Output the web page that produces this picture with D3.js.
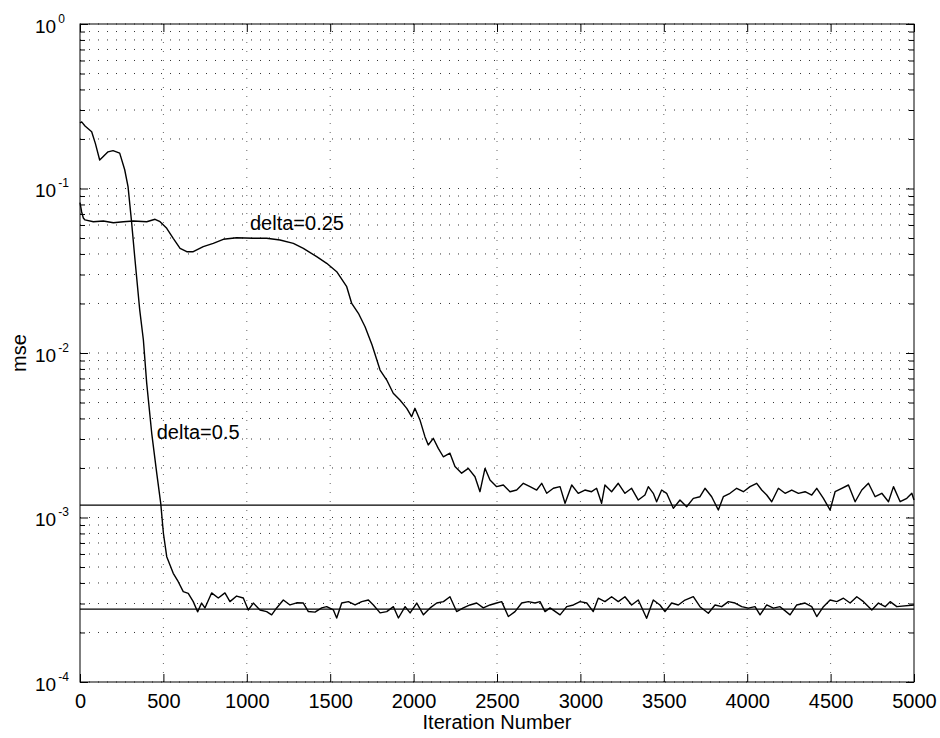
<!DOCTYPE html>
<html>
<head>
<meta charset="UTF-8">
<title>mse vs iteration</title>
<script src="https://d3js.org/d3.v7.min.js"></script>
<style>
  body { margin: 0; background: #fff; }
  svg { display: block; font-family: "Liberation Sans", Arial, Helvetica, sans-serif; }
</style>
</head>
<body>
<svg id="chart"></svg>
<script>
// x-Achse: Iterationen, y-Achse: mse (log)
const iterTicks = [0, 500, 1000, 1500, 2000, 2500, 3000, 3500, 4000, 4500, 5000];
const decadeTicks = [1e-4, 1e-3, 1e-2, 1e-1, 1];
const decadeExp = ["-4", "-3", "-2", "-1", "0"];

// Kurve delta=0.5  [Iteration, mse]
const delta05 = [
  [0,0.250],[10,0.254],[30,0.240],[70,0.2215],[92,0.188],[118,0.149],[138,0.156],[168,0.167],
  [198,0.170],[238,0.164],[268,0.130],[288,0.1026],[308,0.0644],[328,0.0385],[358,0.0183],
  [380,0.0120],[400,0.00654],[430,0.00325],[460,0.00186],[484,0.00122],[500,0.000802],
  [520,0.000578],[559,0.000458],[589,0.000407],[619,0.000354],[649,0.000346],[679,0.000308],
  [705,0.000267],[729,0.000302],[749,0.000282],[789,0.000348],[829,0.000324],[869,0.000348],
  [899,0.000308],[939,0.000333],[979,0.000324],[1009,0.000274],[1039,0.000302],[1079,0.000274],
  [1119,0.000268],[1149,0.000256],[1179,0.000282],[1219,0.000315],[1259,0.000294],[1299,0.000303],
  [1339,0.000302],[1369,0.000268],[1409,0.000266],[1449,0.000282],[1479,0.000287],[1519,0.000274],
  [1539,0.000245],[1569,0.000302],[1609,0.000308],[1649,0.000294],[1689,0.000308],[1729,0.000315],
  [1759,0.000294],[1799,0.000263],[1839,0.000268],[1879,0.000287],[1909,0.000245],[1949,0.000287],
  [1979,0.000263],[2019,0.000302],[2059,0.000256],[2099,0.000282],[2139,0.000302],[2179,0.000308],
  [2218,0.000330],[2258,0.000268],[2298,0.000282],[2338,0.000294],[2378,0.000302],[2418,0.000282],
  [2458,0.000294],[2498,0.000302],[2528,0.000308],[2568,0.000250],[2608,0.000268],[2648,0.000302],
  [2688,0.000308],[2728,0.000302],[2758,0.000308],[2788,0.000268],[2818,0.000282],[2878,0.000256],
  [2918,0.000287],[2958,0.000294],[2998,0.000308],[3038,0.000302],[3077,0.000268],[3107,0.000323],
  [3147,0.000308],[3187,0.000330],[3227,0.000308],[3267,0.000330],[3307,0.000294],[3347,0.000315],
  [3397,0.000244],[3437,0.000315],[3477,0.000294],[3507,0.000268],[3547,0.000302],[3587,0.000294],
  [3627,0.000315],[3677,0.000330],[3717,0.000287],[3767,0.000262],[3807,0.000294],[3847,0.000287],
  [3887,0.000308],[3927,0.000302],[3967,0.000287],[4007,0.000281],[4047,0.000287],[4077,0.000256],
  [4117,0.000294],[4157,0.000281],[4197,0.000287],[4257,0.000256],[4297,0.000294],[4347,0.000302],
  [4387,0.000287],[4417,0.000250],[4457,0.000287],[4497,0.000315],[4537,0.000308],[4577,0.000323],
  [4617,0.000302],[4657,0.000330],[4697,0.000308],[4747,0.000274],[4787,0.000302],[4827,0.000287],
  [4857,0.000308],[4897,0.000287],[5000,0.000294]
];

// Kurve delta=0.25
const delta025 = [
  [0,0.082],[10,0.072],[20,0.0662],[30,0.0644],[80,0.0628],[140,0.0634],[200,0.0619],[260,0.0628],
  [320,0.0634],[400,0.0628],[450,0.0650],[480,0.0628],[520,0.0573],[559,0.0498],[600,0.0433],
  [640,0.0413],[679,0.0413],[739,0.0443],[799,0.0464],[859,0.0491],[939,0.0502],[1039,0.0498],
  [1119,0.0498],[1199,0.0486],[1279,0.0464],[1339,0.0433],[1419,0.0385],[1479,0.0351],[1539,0.0312],
  [1599,0.0253],[1629,0.0200],[1669,0.01743],[1709,0.01445],[1751,0.01118],[1799,0.00788],
  [1839,0.00685],[1878,0.00569],[1918,0.00518],[1959,0.00461],[1988,0.00410],[2008,0.00461],
  [2038,0.00392],[2068,0.00310],[2088,0.00276],[2118,0.00303],[2148,0.00263],[2178,0.00234],
  [2218,0.00246],[2248,0.00204],[2288,0.00186],[2328,0.00199],[2368,0.00177],[2398,0.001435],
  [2428,0.00199],[2458,0.00169],[2498,0.00154],[2538,0.001576],[2578,0.001435],[2618,0.001469],
  [2658,0.001614],[2698,0.00154],[2738,0.001469],[2768,0.001614],[2798,0.001403],[2838,0.001505],
  [2878,0.00154],[2908,0.00122],[2948,0.001576],[2987,0.001403],[3027,0.001469],[3067,0.001435],
  [3097,0.001505],[3127,0.00122],[3147,0.001576],[3187,0.001435],[3227,0.001614],[3267,0.001403],
  [3307,0.001505],[3347,0.001277],[3387,0.00137],[3407,0.00154],[3437,0.001403],[3457,0.001247],
  [3487,0.001469],[3517,0.001403],[3557,0.001137],[3597,0.001277],[3637,0.001163],[3677,0.001308],
  [3717,0.001338],[3747,0.001505],[3787,0.001338],[3827,0.00111],[3857,0.001338],[3897,0.001403],
  [3937,0.001505],[3977,0.001435],[4017,0.00154],[4057,0.001614],[4087,0.001469],[4117,0.00137],
  [4147,0.001247],[4187,0.001505],[4227,0.001403],[4267,0.001469],[4307,0.001403],[4347,0.001435],
  [4387,0.00137],[4417,0.001505],[4457,0.001308],[4497,0.00111],[4527,0.001435],[4567,0.001505],
  [4607,0.001576],[4647,0.001247],[4687,0.001469],[4727,0.001614],[4767,0.001338],[4807,0.001403],
  [4847,0.001247],[4877,0.00154],[4917,0.001247],[4957,0.001308],[4987,0.001403],[5000,0.001277]
];

// horizontale Linien (Grenzwerte)
const floorLevels = [1.19e-3, 2.77e-4];

// Beschriftungen der Kurven: [Iteration, mse, Text]
const curveLabels = [
  [1019, 0.0559, "delta=0.25"],
  [460, 0.0030, "delta=0.5"]
];

const width = 940, height = 738;
const margin = {top: 24, right: 26, bottom: 56, left: 80};
const innerW = width - margin.left - margin.right;
const innerH = height - margin.top - margin.bottom;

const svg = d3.select("#chart")
  .attr("width", width)
  .attr("height", height);

const g = svg.append("g")
  .attr("transform", `translate(${margin.left},${margin.top})`);

const x = d3.scaleLinear().domain([0, 5000]).range([0, innerW]);
const y = d3.scaleLog().domain([1e-4, 1]).range([innerH, 0]);

// Nebenteilstriche 2..9 pro Dekade
const minorTicks = [];
decadeTicks.slice(0, -1).forEach(d => {
  for (let k = 2; k <= 9; k++) minorTicks.push(d * k);
});
const allY = decadeTicks.concat(minorTicks);

// Gitter (gepunktet)
g.append("g").selectAll("line")
  .data(allY)
  .join("line")
  .attr("x1", 0).attr("x2", innerW)
  .attr("y1", d => y(d)).attr("y2", d => y(d))
  .attr("stroke", "#333")
  .attr("stroke-width", 1)
  .attr("stroke-dasharray", "1,8");

g.append("g").selectAll("line")
  .data(iterTicks.slice(1, -1))
  .join("line")
  .attr("x1", d => x(d)).attr("x2", d => x(d))
  .attr("y1", 0).attr("y2", innerH)
  .attr("stroke", "#666")
  .attr("stroke-width", 1)
  .attr("stroke-dasharray", "1,8");

// Achsen mit Innen-Teilstrichen
const xBottom = g.append("g")
  .attr("transform", `translate(0,${innerH})`)
  .call(d3.axisBottom(x).tickValues(iterTicks).tickSize(-8).tickSizeOuter(0).tickPadding(12).tickFormat(d3.format("d")));
g.append("g")
  .call(d3.axisTop(x).tickValues(iterTicks).tickSize(-8).tickSizeOuter(0).tickFormat(""));
g.append("g")
  .call(d3.axisLeft(y).tickValues(decadeTicks).tickSize(-8).tickSizeOuter(0).tickFormat(""));
g.append("g")
  .call(d3.axisLeft(y).tickValues(minorTicks).tickSize(-5).tickSizeOuter(0).tickFormat(""));
g.append("g")
  .attr("transform", `translate(${innerW},0)`)
  .call(d3.axisRight(y).tickValues(decadeTicks).tickSize(-8).tickSizeOuter(0).tickFormat(""));
g.append("g")
  .attr("transform", `translate(${innerW},0)`)
  .call(d3.axisRight(y).tickValues(minorTicks).tickSize(-5).tickSizeOuter(0).tickFormat(""));

g.selectAll(".domain").remove();
g.selectAll(".tick line").attr("stroke", "#000");

xBottom.selectAll("text")
  .attr("font-size", 20)
  .attr("fill", "#000")
  .attr("font-family", "'Liberation Sans', Arial, Helvetica, sans-serif");

// y-Beschriftung 10^k
const yLab = g.append("g").selectAll("text")
  .data(decadeTicks)
  .join("text")
  .attr("x", -45)
  .attr("y", d => y(d) + 8.7)
  .attr("font-size", 19)
  .attr("fill", "#000");
yLab.append("tspan").text("10");
yLab.append("tspan")
  .attr("dx", 2)
  .attr("dy", -10)
  .attr("font-size", 12)
  .text((d, i) => decadeExp[i]);

// Rahmen
g.append("rect")
  .attr("width", innerW)
  .attr("height", innerH)
  .attr("fill", "none")
  .attr("stroke", "#000")
  .attr("stroke-width", 1);

// Grenzwertlinien
g.append("g").selectAll("line")
  .data(floorLevels)
  .join("line")
  .attr("x1", 0).attr("x2", innerW)
  .attr("y1", d => y(d)).attr("y2", d => y(d))
  .attr("stroke", "#000")
  .attr("stroke-width", 1.2);

// Kurven
const line = d3.line()
  .x(d => x(d[0]))
  .y(d => y(d[1]));

[delta05, delta025].forEach(series => {
  g.append("path")
    .datum(series)
    .attr("fill", "none")
    .attr("stroke", "#000")
    .attr("stroke-width", 1.4)
    .attr("stroke-linejoin", "round")
    .attr("d", line);
});

g.append("g").selectAll("text")
  .data(curveLabels)
  .join("text")
  .attr("x", d => x(d[0]))
  .attr("y", d => y(d[1]))
  .attr("font-size", 20)
  .attr("fill", "#000")
  .text(d => d[2]);

// Achsentitel
svg.append("text")
  .attr("x", margin.left + innerW / 2)
  .attr("y", 729)
  .attr("text-anchor", "middle")
  .attr("font-size", 20)
  .text("Iteration Number");

svg.append("text")
  .attr("transform", `translate(26,${margin.top + innerH / 2}) rotate(-90)`)
  .attr("text-anchor", "middle")
  .attr("font-size", 20)
  .text("mse");
</script>
</body>
</html>
